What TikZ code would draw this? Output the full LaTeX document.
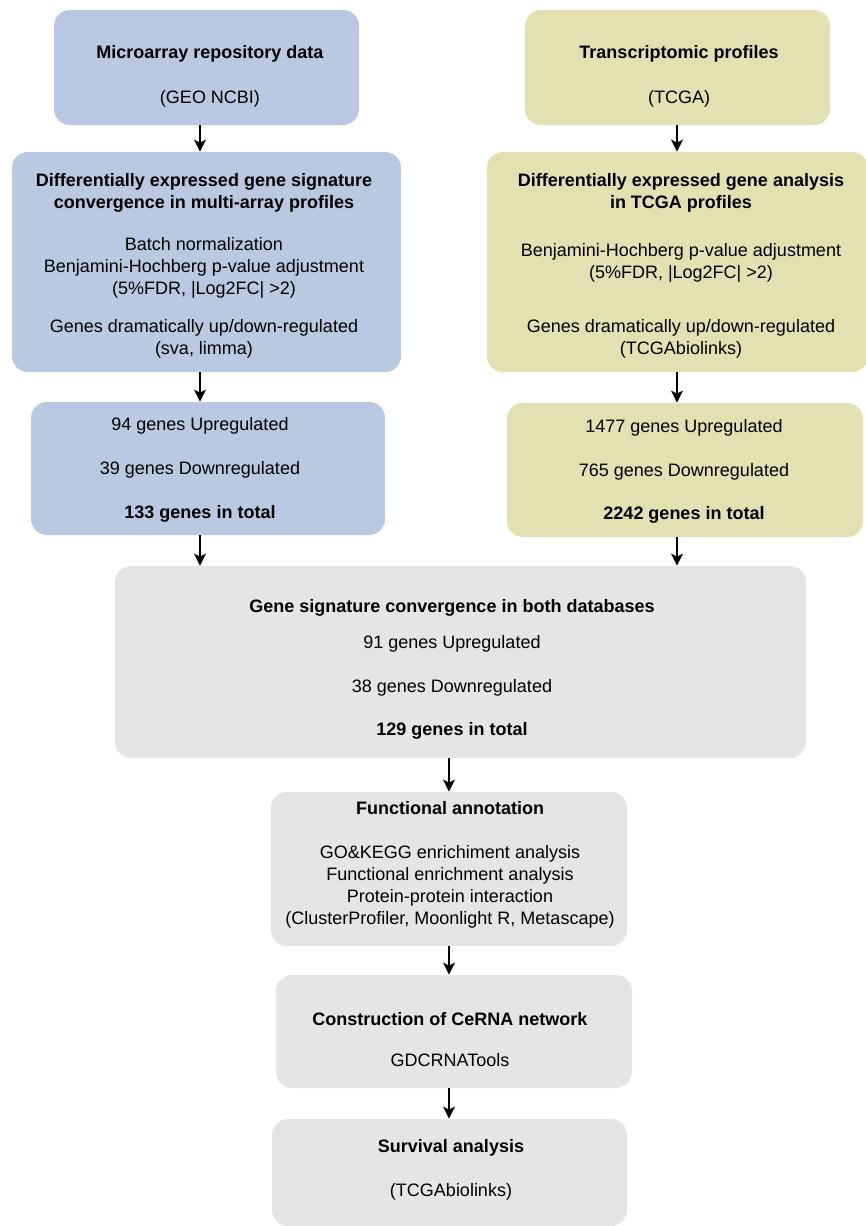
\documentclass[tikz,border=0pt]{standalone}
\usepackage{fontspec}
\setmainfont{Liberation Sans}
\usetikzlibrary{arrows.meta}
\definecolor{geoblue}{RGB}{184,201,225}
\definecolor{tcgaolive}{RGB}{227,224,178}
\definecolor{bothgray}{RGB}{230,229,227}
\begin{document}
\begin{tikzpicture}[x=0.5pt,y=-0.5pt,
  stage/.style={rectangle,rounded corners=8pt,draw=none,inner sep=0pt},
  geo box/.style={stage,fill=geoblue},
  tcga box/.style={stage,fill=tcgaolive},
  both box/.style={stage,fill=bothgray},
  label text/.style={align=center,inner sep=0pt,font=\fontsize{9}{11}\selectfont},
  arr/.style={line width=0.75pt,-{Stealth[length=6pt,width=6pt,inset=1.5pt]}}]%
  \useasboundingbox (0,0) rectangle (866,1226);
  % left column: GEO
  \node[geo box,minimum width=152.5pt,minimum height=57.5pt] (geo) at (206.5,67.5) {};
  \node[label text] (geot) at (210,76.5) {\textbf{Microarray repository data}\\[11.5pt](GEO NCBI)};
  \node[geo box,minimum width=194.5pt,minimum height=110pt] (geodeg) at (206.5,262) {};
  \node[label text] (geodegt) at (204,266) {\textbf{Differentially expressed gene signature}\\\textbf{convergence in multi-array profiles}\\[10pt]Batch normalization\\Benjamini-Hochberg p-value adjustment\\(5\%FDR, |Log2FC| >2)\\[8pt]Genes dramatically up/down-regulated\\(sva, limma)};
  \node[geo box,minimum width=177pt,minimum height=66.5pt] (geocount) at (208,468.5) {};
  \node[label text] (geocountt) at (200,469.5) {94 genes Upregulated\\[11pt]39 genes Downregulated\\[11pt]\textbf{133 genes in total}};
  % right column: TCGA
  \node[tcga box,minimum width=152.5pt,minimum height=57.5pt] (tcga) at (677.5,67.5) {};
  \node[label text] (tcgat) at (679,76.5) {\textbf{Transcriptomic profiles}\\[11.5pt](TCGA)};
  \node[tcga box,minimum width=190.5pt,minimum height=110pt] (tcgadeg) at (677.5,262) {};
  \node[label text] (tcgadegt) at (681,266) {\textbf{Differentially expressed gene analysis}\\\textbf{in TCGA profiles}\\[13pt]Benjamini-Hochberg p-value adjustment\\(5\%FDR, |Log2FC| >2)\\[16pt]Genes dramatically up/down-regulated\\(TCGAbiolinks)};
  \node[tcga box,minimum width=178pt,minimum height=67pt] (tcgacount) at (685,470) {};
  \node[label text] (tcgacountt) at (684,471.5) {1477 genes Upregulated\\[10.75pt]765 genes Downregulated\\[10.75pt]\textbf{2242 genes in total}};
  % both databases and downstream steps
  \node[both box,minimum width=345.5pt,minimum height=96pt] (conv) at (460.5,662) {};
  \node[label text] (convt) at (452,669.5) {\textbf{Gene signature convergence in both databases}\\[7pt]91 genes Upregulated\\[11pt]38 genes Downregulated\\[10.5pt]\textbf{129 genes in total}};
  \node[both box,minimum width=178pt,minimum height=77pt] (annot) at (449,869) {};
  \node[label text] (annott) at (450,865) {\textbf{Functional annotation}\\[11pt]GO\&KEGG enrichiment analysis\\Functional enrichment analysis\\Protein-protein interaction\\(ClusterProfiler, Moonlight R, Metascape)};
  \node[both box,minimum width=178pt,minimum height=56.5pt] (cerna) at (454,1031.5) {};
  \node[label text] (cernat) at (450,1039.5) {\textbf{Construction of CeRNA network}\\[9.5pt]GDCRNATools};
  \node[both box,minimum width=177.5pt,minimum height=53.5pt] (surv) at (449.5,1172.5) {};
  \node[label text] (survt) at (451,1170) {\textbf{Survival analysis}\\[11pt](TCGAbiolinks)};
  % arrows
  \coordinate (leftlane) at (200,0);
  \coordinate (rightlane) at (677,0);
  \coordinate (midlane) at (449,0);
  \foreach \a/\b/\l in {geo/geodeg/leftlane,geodeg/geocount/leftlane,geocount/conv/leftlane,
    tcga/tcgadeg/rightlane,tcgadeg/tcgacount/rightlane,tcgacount/conv/rightlane,
    conv/annot/midlane,annot/cerna/midlane,cerna/surv/midlane}
  \draw[arr] (\a.south -| \l) -- (\b.north -| \l);
\end{tikzpicture}
\end{document}
